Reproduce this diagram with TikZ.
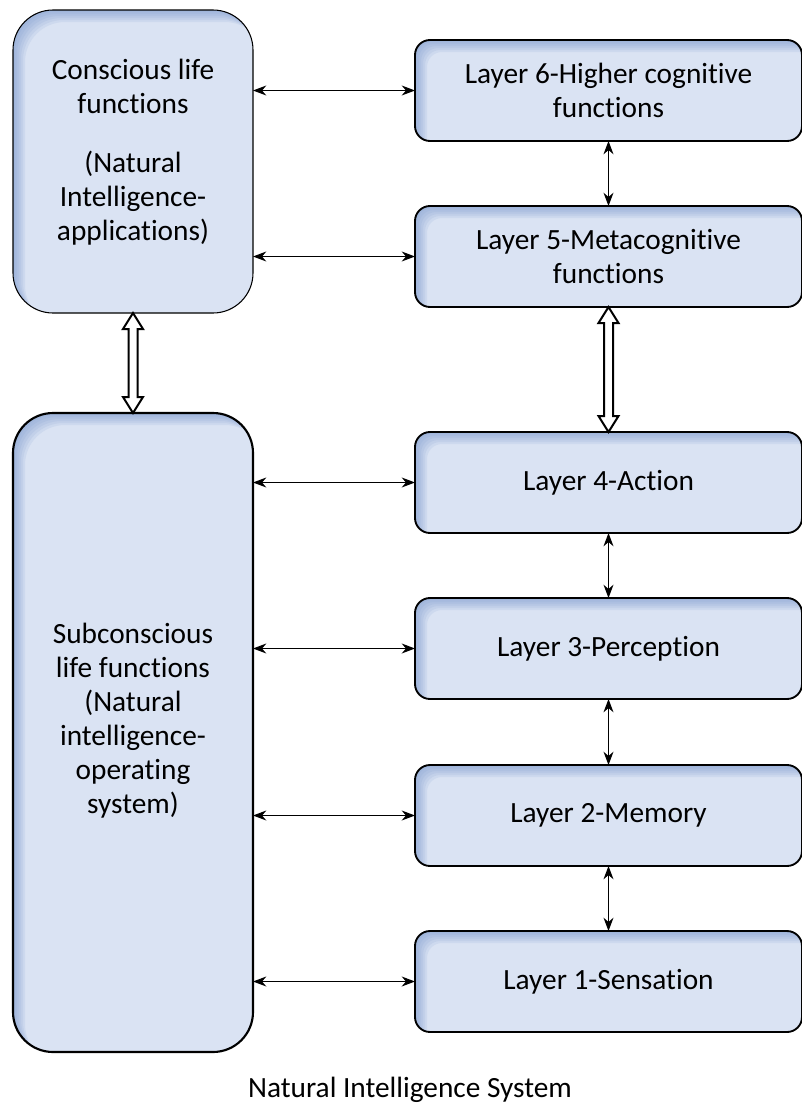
\documentclass[tikz,border=0pt]{standalone}
\usepackage{fontspec}
\setmainfont{Carlito}[Ligatures=NoCommon]
\usetikzlibrary{arrows.meta,calc}
\definecolor{boxfill}{RGB}{218,227,243}
\definecolor{boxshade}{RGB}{120,150,205}
\newcommand\hollowarrow[2]{%
  \draw[line width=1.5pt, fill=white, line join=miter, miter limit=3]
    (#1) -- ($(#1)+(10,16)$) -- ($(#1)+(4.5,16)$) -- ($(#2)+(4.5,-16)$) --
    ($(#2)+(10,-16)$) -- (#2) -- ($(#2)+(-10,-16)$) -- ($(#2)+(-4.5,-16)$) --
    ($(#1)+(-4.5,16)$) -- ($(#1)+(-10,16)$) -- cycle;}
\newcommand\innershade[3]{%
  \begin{scope}
    \clip[rounded corners=#2] (#1.south west) rectangle (#1.north east);
    \foreach \d in {2,4,6,8,10,12}{
      \fill[boxshade, opacity=0.13, even odd rule, rounded corners=#2]
        ($(#1.south west)+(-40,40)$) rectangle ($(#1.north east)+(40,-40)$)
        ($(#1.south west)+(\d,\d)$) rectangle ($(#1.north east)+(\d,\d)$);
    }
  \end{scope}
  \draw[line width=#3, rounded corners=#2] (#1.south west) rectangle (#1.north east);}
\begin{document}
\begin{tikzpicture}[x=0.75pt,y=-0.75pt,
  font=\fontsize{22}{25.5}\selectfont,
  base/.style={fill=boxfill, inner sep=0pt, outer sep=0pt, align=center},
  lbox/.style={base, minimum width=180pt, rounded corners=30pt},
  rbox/.style={base, minimum width=290.25pt, minimum height=75.75pt, rounded corners=11.25pt},
  txt/.style={align=center, inner sep=0pt},
  dbl/.style={{Stealth[length=10pt,width=7.5pt]}-{Stealth[length=10pt,width=7.5pt]}, line width=0.8pt}]
\useasboundingbox (0,0) rectangle (802,1115);

\node[lbox, minimum height=227.25pt] (lt) at (133,161.5) {};
\node[lbox, minimum height=479.25pt] (lb) at (133,732.5) {};
\node[rbox] (l6) at (608.5,90.5) {};
\node[rbox] (l5) at (608.5,256.5) {};
\node[rbox] (l4) at (608.5,482.5) {};
\node[rbox] (l3) at (608.5,648.5) {};
\node[rbox] (l2) at (608.5,815.5) {};
\node[rbox] (l1) at (608.5,981.5) {};

\innershade{lt}{30pt}{0.8pt}
\innershade{lb}{30pt}{1.6pt}
\innershade{l6}{11.25pt}{1.4pt}
\innershade{l5}{11.25pt}{1.4pt}
\innershade{l4}{11.25pt}{1.4pt}
\innershade{l3}{11.25pt}{1.4pt}
\innershade{l2}{11.25pt}{1.4pt}
\innershade{l1}{11.25pt}{1.4pt}

\node[txt] (ltt) at (133,152) {Conscious life\\functions\\[18.75pt](Natural\\Intelligence-\\applications)};
\node[txt] (lbt) at (133,721) {Subconscious\\life functions\\(Natural\\intelligence-\\operating\\system)};
\node[txt] (l6t) at (l6) {Layer 6-Higher cognitive\\functions};
\node[txt] (l5t) at (l5) {Layer 5-Metacognitive\\functions};
\node[txt] (l4t) at (l4) {Layer 4-Action};
\node[txt] (l3t) at (l3) {Layer 3-Perception};
\node[txt] (l2t) at (l2) {Layer 2-Memory};
\node[txt] (l1t) at (l1) {Layer 1-Sensation};

\draw[dbl] (l6.west -| lt.east) -- (l6.west);
\draw[dbl] (l5.west -| lt.east) -- (l5.west);
\draw[dbl] (l4.west -| lb.east) -- (l4.west);
\draw[dbl] (l3.west -| lb.east) -- (l3.west);
\draw[dbl] (l2.west -| lb.east) -- (l2.west);
\draw[dbl] (l1.west -| lb.east) -- (l1.west);

\draw[dbl] (l6.south) -- (l5.north);
\draw[dbl] (l4.south) -- (l3.north);
\draw[dbl] (l3.south) -- (l2.north);
\draw[dbl] (l2.south) -- (l1.north);

\hollowarrow{lt.south}{lb.north}
\hollowarrow{l5.south}{l4.north}

\node[txt] (cap) at (410,1090) {Natural Intelligence System};
\end{tikzpicture}
\end{document}
